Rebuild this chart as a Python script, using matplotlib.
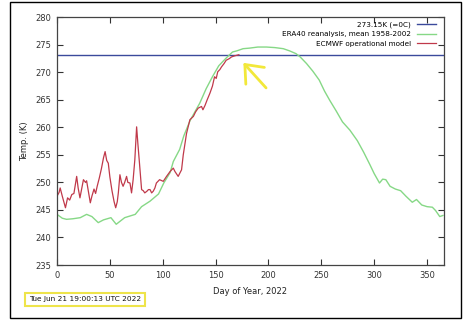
import matplotlib
matplotlib.use("Agg")
import matplotlib.pyplot as plt
from matplotlib.patches import Rectangle

# freezing reference line
freezing_k = 273.15

# ERA40 reanalysis mean 1958-2002 (day of year, temperature K)
era40_day = [0, 5, 9, 15, 22, 28, 33, 39, 44, 51, 56, 60, 64, 69, 74, 80, 88, 96,
             101, 107, 110, 116, 120, 126, 135, 141, 147, 153, 160, 166, 170, 176,
             182, 190, 198, 206, 214, 220, 226, 230, 236, 242, 248, 253, 258, 264,
             270, 277, 284, 290, 296, 300, 305, 308, 311, 315, 320, 325, 330, 336,
             340, 345, 350, 355, 358, 362, 365]
era40_temp = [244.2, 243.5, 243.3, 243.4, 243.6, 244.2, 243.8, 242.7, 243.2, 243.6,
              242.4, 243.0, 243.6, 243.9, 244.2, 245.6, 246.6, 247.9, 249.9, 251.8,
              253.8, 256.0, 258.5, 261.3, 264.4, 267.0, 269.2, 271.2, 272.6, 273.7,
              273.9, 274.3, 274.4, 274.6, 274.6, 274.5, 274.3, 273.9, 273.4, 272.8,
              271.6, 270.2, 268.6, 266.6, 264.9, 263.0, 261.0, 259.5, 257.6, 255.5,
              253.2, 251.6, 249.9, 250.6, 250.5, 249.3, 248.8, 248.5, 247.5, 246.4,
              246.9, 245.9, 245.6, 245.5, 244.9, 243.8, 244.0]

# ECMWF operational model, 2022
ecmwf_day = [0, 2, 3, 5, 8, 10, 12, 14, 16, 18.6, 20, 21.7, 23, 25, 27, 28, 30, 31.5,
             33, 35, 36.5, 38, 40, 42, 44, 45.5, 47, 48.5, 50, 52, 54, 55.5, 57, 58,
             59.5, 61, 62.5, 64, 65.8, 67, 69, 70.5, 72, 73.6, 75.3, 76.5, 78, 80,
             81.6, 83, 85, 86.5, 88, 89.5, 91, 92.6, 94, 97, 100.5, 103.6, 107, 110,
             111.5, 114.6, 117.8, 119.4, 122.5, 125.7, 129, 131, 133.5, 136.7, 138,
             140, 142, 144.6, 147, 149, 150.6, 152, 154, 155.6, 158, 160, 163, 165,
             168, 170, 172]
ecmwf_temp = [247.5, 248.2, 249.0, 247.5, 245.4, 247.2, 246.8, 247.8, 248.0, 251.1,
              249.0, 247.2, 248.5, 250.5, 250.0, 250.3, 248.0, 246.3, 247.5, 248.8,
              248.0, 249.3, 250.8, 252.5, 254.5, 255.6, 254.0, 253.5, 251.0, 248.5,
              246.5, 245.4, 246.5, 248.1, 251.4, 250.0, 249.3, 250.0, 251.1, 250.0,
              249.9, 248.1, 250.5, 254.1, 260.1, 257.0, 253.5, 248.7, 248.5, 248.1,
              248.4, 248.7, 248.7, 248.1, 248.4, 249.0, 249.9, 250.5, 250.2, 251.1,
              252.0, 252.6, 252.0, 251.1, 252.3, 255.0, 258.9, 261.4, 262.0, 262.8,
              263.5, 263.8, 263.2, 264.0, 265.0, 266.2, 267.5, 269.2, 268.9, 270.1,
              270.5, 271.0, 271.6, 272.2, 272.5, 272.8, 273.0, 273.1, 273.2]

x_ticks = [0, 50, 100, 150, 200, 250, 300, 350]
y_ticks = [235, 240, 245, 250, 255, 260, 265, 270, 275, 280]

fig = plt.figure(figsize=(4.68, 3.26), dpi=100)
ax = fig.add_axes([0.1218, 0.1871, 0.8269, 0.7598])

ax.axhline(freezing_k, color='#3b4a9c', lw=1.0, label='273.15K (=0C)')
ax.plot(era40_day, era40_temp, color='#86d886', lw=1.0,
        label='ERA40 reanalysis, mean 1958-2002')
ax.plot(ecmwf_day, ecmwf_temp, color='#c0394a', lw=0.9,
        label='ECMWF operational model')

ax.set_xlim(0, 366)
ax.set_ylim(235, 280)
ax.set_xticks(x_ticks)
ax.set_yticks(y_ticks)
ax.tick_params(direction='in', top=True, right=True, length=4, width=0.8,
               labelsize=6, colors='#333333', pad=4)
for s in ax.spines.values():
    s.set_color('#444444')
    s.set_linewidth(0.9)

ax.set_xlabel('Day of Year, 2022', fontsize=6, color='#222222', labelpad=5)
ax.set_ylabel('Temp. (K)', fontsize=6, color='#222222', labelpad=5)

ax.legend(loc='upper right', frameon=False, markerfirst=False,
          prop={'family': 'Liberation Sans Narrow', 'size': 5.2},
          handlelength=2.6, handletextpad=0.8, labelspacing=0.45,
          borderaxespad=0, borderpad=0.3, bbox_to_anchor=(0.984, 0.992))

# yellow hand-drawn arrow pointing at the end of the model run
ax.annotate('', xy=(174.5, 272.1), xytext=(199.5, 266.8),
            arrowprops=dict(arrowstyle='->, head_length=1.1, head_width=0.9',
                            color='#f2e83a', lw=2.0))

# outer frame and timestamp box
fig.patches.append(Rectangle((10 / 468, 1 - 318 / 326), 451 / 468, 316 / 326,
                             transform=fig.transFigure, fill=False,
                             edgecolor='black', lw=1.0))
fig.text(85 / 468, 1 - 299.5 / 326, 'Tue Jun 21 19:00:13 UTC 2022', fontsize=5.3,
         ha='center', va='center', color='#111111',
         bbox=dict(boxstyle='square,pad=0.5', fc='white', ec='#eee44a', lw=1.5))

fig.savefig('out.png', dpi=100)
